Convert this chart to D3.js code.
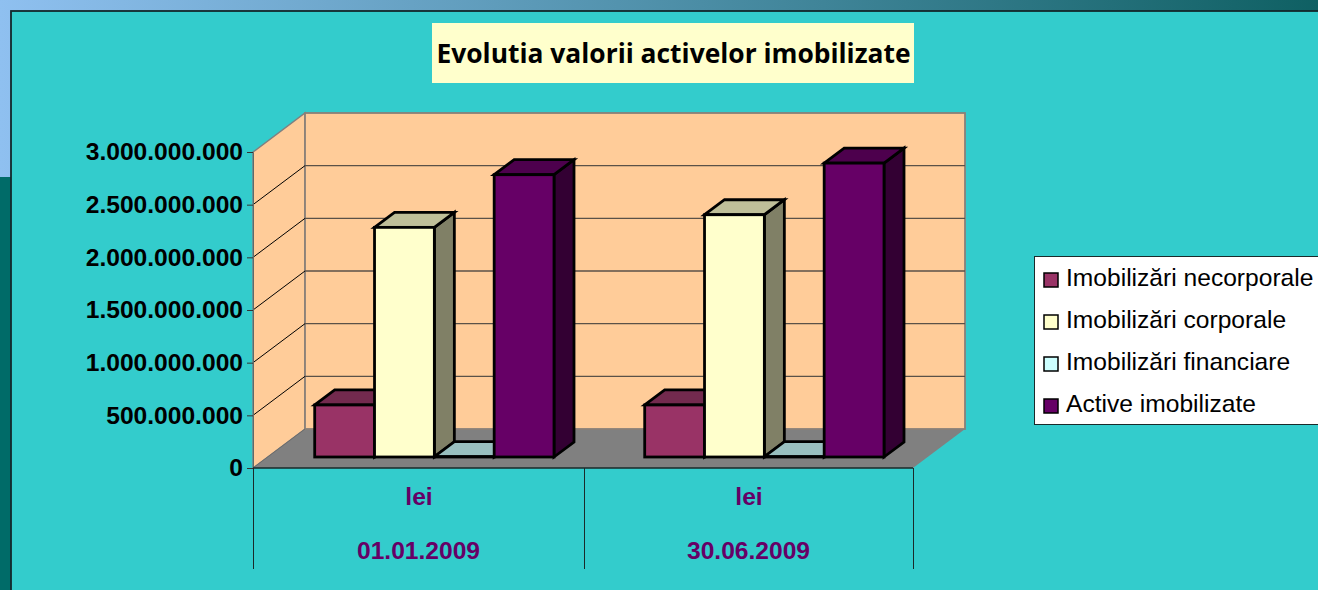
<!DOCTYPE html>
<html><head><meta charset="utf-8">
<script src="https://cdn.jsdelivr.net/npm/d3@7"></script>
<style>html,body{margin:0;padding:0;overflow:hidden;background:#33CCCC}svg{display:block}text{font-family:"Liberation Sans",Arial,sans-serif}</style>
</head><body><svg id="c" width="1318" height="590"></svg>
<script>
const titleText = "Evolutia valorii activelor imobilizate";
const periods = ["01.01.2009", "30.06.2009"];
const unitLabels = ["lei", "lei"];
const seriesNames = ["Imobilizări necorporale", "Imobilizări corporale", "Imobilizări financiare", "Active imobilizate"];
const seriesColors = ["#993366", "#FFFFCC", "#CCFFFF", "#660066"];
const topColors = ["#732a4e", "#BFBF99", "#99BFBF", "#4d004d"];
const sideColors = ["#66223f", "#808066", "#668080", "#330033"];
const necorporale = [494000000, 494000000];
const corporale = [2180000000, 2300000000];
const financiare = [3000000, 3000000];
const active = [2680000000, 2790000000];
const seriesValues = [necorporale, corporale, financiare, active];
const yTicks = [0, 500000000, 1000000000, 1500000000, 2000000000, 2500000000, 3000000000];

const svg = d3.select("#c");
const defs = svg.append("defs");
const g = defs.append("linearGradient").attr("id", "bg");
g.append("stop").attr("offset", 0).attr("stop-color", "#8FC0F0");
g.append("stop").attr("offset", 1).attr("stop-color", "#0F6063");
svg.append("rect").attr("width", 1318).attr("height", 590).attr("fill", "url(#bg)");
svg.append("rect").attr("y", 177).attr("width", 11).attr("height", 413).attr("fill", "#006B68");
svg.append("rect").attr("x", 11).attr("y", 11).attr("width", 1320).attr("height", 600)
  .attr("fill", "#33CCCC").attr("stroke", "#12282c").attr("stroke-width", 1.8);

// plot frame
const x0 = 253, x1 = 913, yBase = 468, yTop = 152;
const depthX = 52, depthY = 39;
const y = d3.scaleLinear().domain([0, 3000000000]).range([yBase, yTop]);
const x = d3.scaleBand().domain(periods).range([x0, x1]);
const inner = d3.scaleBand().domain(seriesNames).range([61.7, 301]);
const fmt = d3.formatLocale({decimal: ",", thousands: ".", grouping: [3], currency: ["", ""]}).format(",d");
const poly = p => p.map(d => d.join(",")).join(" ");

const chart = svg.append("g");
chart.append("polygon").attr("points", poly([[x0, y(0)], [x0 + depthX, y(0) - depthY], [x1 + depthX, y(0) - depthY], [x1, y(0)]])).attr("fill", "#808080");
chart.append("polygon").attr("points", poly([[x0, y(3e9)], [x0 + depthX, y(3e9) - depthY], [x0 + depthX, y(0) - depthY], [x0, y(0)]])).attr("fill", "#FFCC99").attr("stroke", "#808080").attr("stroke-width", 1.4);
chart.append("rect").attr("x", x0 + depthX).attr("y", y(3e9) - depthY).attr("width", x1 - x0).attr("height", y(0) - y(3e9))
  .attr("fill", "#FFCC99").attr("stroke", "#8a8078").attr("stroke-width", 1.8);
yTicks.slice(1, -1).forEach(t => {
  chart.append("line").attr("x1", x0).attr("y1", y(t)).attr("x2", x0 + depthX).attr("y2", y(t) - depthY).attr("stroke", "#000").attr("stroke-width", 1);
  chart.append("line").attr("x1", x0 + depthX).attr("y1", y(t) - depthY).attr("x2", x1 + depthX).attr("y2", y(t) - depthY).attr("stroke", "#5a5148").attr("stroke-width", 1.3);
});
chart.append("line").attr("x1", x0).attr("y1", yBase).attr("x2", x0 + depthX).attr("y2", yBase - depthY).attr("stroke", "#6b6b6b").attr("stroke-width", 1);

// y axis
const yAxis = chart.append("g").attr("transform", `translate(${x0},0)`)
  .call(d3.axisLeft(y).tickValues(yTicks).tickFormat(fmt).tickSize(6).tickPadding(4));
yAxis.select(".domain").attr("stroke", "#5c6b6b").attr("stroke-width", 1);
yAxis.selectAll(".tick line").attr("stroke", "#333");
yAxis.selectAll("text").attr("font-size", 24.6).attr("font-weight", "bold").attr("fill", "#000").style("font-family", '"Liberation Sans"');

// bars
const barFloor = 11, barDX = 20, barDY = 15;
const barsData = periods.flatMap((p, i) => seriesNames.map((s, j) => ({p, s, j, v: seriesValues[j][i]})));
const barG = chart.selectAll("g.bar").data(barsData).join("g").attr("class", "bar");
barG.each(function (d) {
  const b = d3.select(this);
  const l = x(d.p) + inner(d.s), w = inner.bandwidth(), r = l + w;
  const bot = yBase - barFloor, top = y(d.v) - barFloor;
  const st = {stroke: "#000", "stroke-width": 2.8, "stroke-linejoin": "miter"};
  const ap = (el) => { Object.entries(st).forEach(([k, v]) => el.attr(k, v)); return el; };
  ap(b.append("polygon").attr("points", poly([[r, bot], [r + barDX, bot - barDY], [r + barDX, top - barDY], [r, top]])).attr("fill", sideColors[d.j]));
  ap(b.append("polygon").attr("points", poly([[l, top], [l + barDX, top - barDY], [r + barDX, top - barDY], [r, top]])).attr("fill", topColors[d.j]));
  ap(b.append("rect").attr("x", l).attr("y", top).attr("width", w).attr("height", bot - top).attr("fill", seriesColors[d.j]));
});

// lower category table
chart.append("line").attr("x1", x0).attr("x2", x1).attr("y1", yBase).attr("y2", yBase).attr("stroke", "#1a2a2a").attr("stroke-width", 1.4);
[x0, ...periods.map(p => x(p) + x.bandwidth())].forEach((v, i) => {
  const px = Math.round(v) + 0.5 + (i === 1 ? 1 : 0);
  chart.append("line").attr("x1", px).attr("x2", px).attr("y1", yBase).attr("y2", 569).attr("stroke", "#1a2a2a").attr("stroke-width", 1);
});
const purple = "#660066";
periods.forEach((p, i) => {
  const cx = x(p) + x.bandwidth() / 2 + 1;
  chart.append("text").attr("x", cx).attr("y", 505).attr("text-anchor", "middle").attr("font-size", 24.6).attr("font-weight", "bold").attr("fill", purple).text(unitLabels[i]);
  chart.append("text").attr("x", cx - 0.5).attr("y", 559).attr("text-anchor", "middle").attr("font-size", 24.6).attr("font-weight", "bold").attr("fill", purple).text(p);
});

// title
svg.append("rect").attr("x", 432).attr("y", 23).attr("width", 482).attr("height", 60).attr("fill", "#FFFFCC");
svg.append("text").attr("x", 673.5).attr("y", 63).attr("text-anchor", "middle").attr("font-size", 26.4).attr("font-weight", "bold").attr("fill", "#000").style("font-family", '"Open Sans"').text(titleText);

// legend
svg.append("rect").attr("x", 1034.5).attr("y", 256.5).attr("width", 300).attr("height", 168).attr("fill", "#fff").attr("stroke", "#1a2a2a").attr("stroke-width", 1);
const legY = d3.scalePoint().domain(seriesNames).range([278, 404]);
const leg = svg.selectAll("g.leg").data(seriesNames).join("g").attr("class", "leg").attr("transform", d => `translate(0,${legY(d)})`);
leg.append("rect").attr("x", 1044).attr("y", -5).attr("width", 14).attr("height", 14).attr("fill", (d, i) => seriesColors[i]).attr("stroke", "#000").attr("stroke-width", 1.5);
leg.append("text").attr("x", 1066).attr("y", 8).attr("font-size", 24.6).attr("fill", "#000").text(d => d);
</script></body></html>
